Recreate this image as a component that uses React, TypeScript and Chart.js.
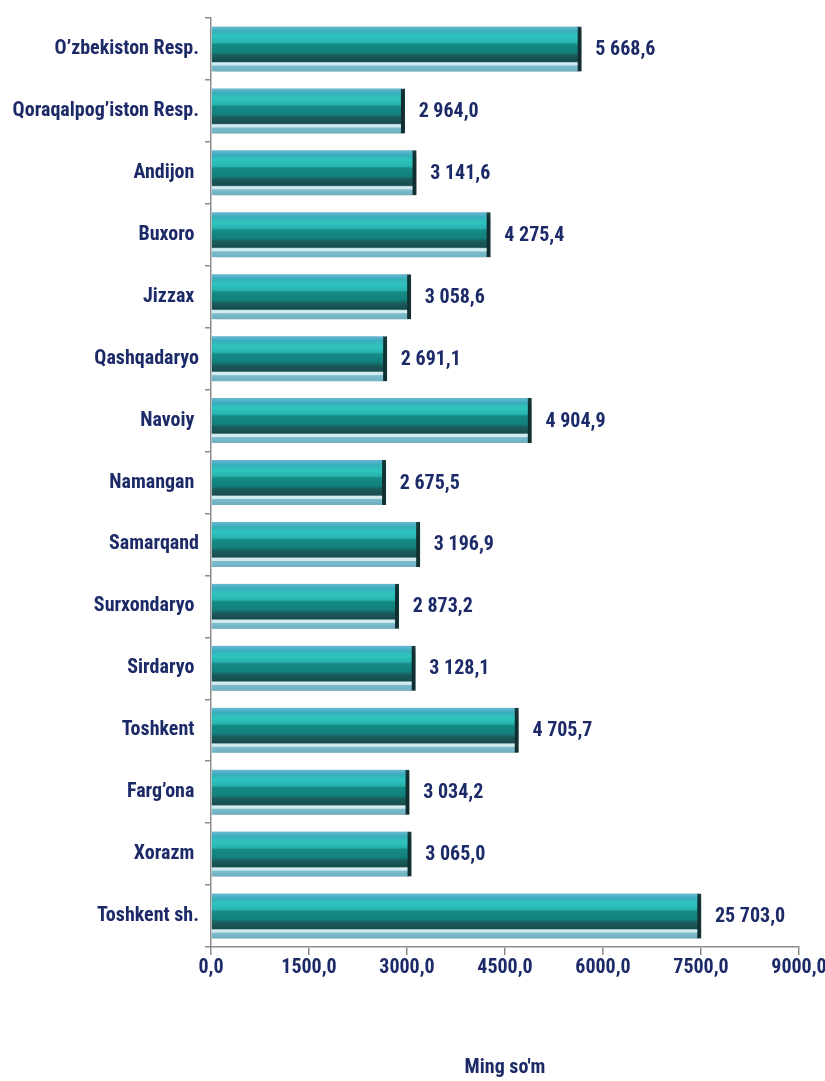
import React, { useEffect, useRef } from "react";
import { Chart, registerables } from "chart.js";

Chart.register(...registerables);

const categories = [
  "O’zbekiston Resp.",
  "Qoraqalpog’iston Resp.",
  "Andijon ",
  "Buxoro ",
  "Jizzax ",
  "Qashqadaryo",
  "Navoiy ",
  "Namangan ",
  "Samarqand",
  "Surxondaryo ",
  "Sirdaryo ",
  "Toshkent ",
  "Farg’ona ",
  "Xorazm ",
  "Toshkent sh.",
];

const values = [
  5668.6, 2964.0, 3141.6, 4275.4, 3058.6, 2691.1, 4904.9, 2675.5, 3196.9,
  2873.2, 3128.1, 4705.7, 3034.2, 3065.0, 25703.0,
];

// The original chart clips the off-scale bar at this value
const barCap = 7500;
const xTicks = [0, 1500, 3000, 4500, 6000, 7500, 9000];
const axisTitle = "Ming so'm";

const FONT = "'Roboto Condensed', 'Liberation Sans Narrow', sans-serif";
const FSIZE = 20;
const NAVY = "#1c2a68";
const BAR_T = 45;

function fmt(v: number): string {
  const s = v.toFixed(1);
  const [i, d] = s.split(".");
  return i.replace(/\B(?=(\d{3})+(?!\d))/g, " ") + "," + d;
}

function fmtTick(v: number): string {
  return v.toFixed(1).replace(".", ",");
}

const barPlugin = {
  id: "barDeco",
  beforeDatasetsDraw(chart: any) {
    const ctx = chart.ctx;
    ctx.save();
    ctx.shadowColor = "rgba(0,0,0,0.32)";
    ctx.shadowBlur = 6;
    ctx.shadowOffsetX = 3;
    ctx.shadowOffsetY = 4;
  },
  afterDatasetsDraw(chart: any) {
    const ctx = chart.ctx;
    ctx.restore();
    const meta = chart.getDatasetMeta(0);
    ctx.save();
    ctx.font = `bold ${FSIZE}px ${FONT}`;
    ctx.fillStyle = NAVY;
    ctx.textAlign = "left";
    ctx.textBaseline = "middle";
    meta.data.forEach((el: any, i: number) => {
      ctx.fillText(fmt(values[i]), el.x + 14, el.y + 1);
    });
    ctx.restore();
  },
};

export default function App() {
  const ref = useRef<HTMLCanvasElement>(null);
  useEffect(() => {
    if (!ref.current) return;
    const chart = new Chart(ref.current, {
      type: "bar",
      data: {
        labels: categories,
        datasets: [
          {
            data: values.map((v) => Math.min(v, barCap)),
            barThickness: BAR_T,
            borderWidth: { top: 0, bottom: 0, left: 0, right: 4 } as any,
            borderColor: "#163b3e",
            borderSkipped: false,
            backgroundColor: (c: any) => {
              const chart = c.chart;
              const y = chart.scales && chart.scales.y;
              if (!y || c.dataIndex === undefined) return "#1a9a95";
              const mid = y.getPixelForValue(c.dataIndex) - 1;
              if (!isFinite(mid)) return "#1a9a95";
              const g = chart.ctx.createLinearGradient(0, mid - BAR_T / 2, 0, mid + BAR_T / 2);
              g.addColorStop(0, "#6bbad0");
              g.addColorStop(0.08, "#55b2c9");
              g.addColorStop(0.12, "#38aebb");
              g.addColorStop(0.25, "#2fc4bf");
              g.addColorStop(0.38, "#27b3ae");
              g.addColorStop(0.42, "#158a86");
              g.addColorStop(0.6, "#12807c");
              g.addColorStop(0.66, "#1a5e5e");
              g.addColorStop(0.8, "#184b4d");
              g.addColorStop(0.83, "#d2eef3");
              g.addColorStop(0.88, "#cfe9ee");
              g.addColorStop(0.9, "#7dbccc");
              g.addColorStop(1, "#6fb2c3");
              return g;
            },
          },
        ],
      },
      options: {
        indexAxis: "y",
        responsive: false,
        animation: false,
        maintainAspectRatio: false,
        layout: { padding: { top: 13, right: 26, left: 0, bottom: 0 } },
        plugins: {
          legend: { display: false },
          tooltip: { enabled: false },
        },
        scales: {
          x: {
            min: 0,
            max: 9000,
            afterBuildTicks: (s: any) => {
              s.ticks = xTicks.map((v) => ({ value: v }));
            },
            afterFit: (s: any) => {
              s.height = 134;
              s.paddingLeft = 0;
              s.paddingRight = 0;
            },
            border: { display: true, color: "#8c8c8c", width: 1.5 },
            grid: {
              display: true,
              drawOnChartArea: false,
              drawTicks: true,
              tickLength: 8,
              color: "#8c8c8c",
              lineWidth: 1.5,
            },
            ticks: {
              color: NAVY,
              font: { family: FONT, size: FSIZE, weight: "bold" },
              padding: 1,
              maxRotation: 0,
              callback: (v: any) => fmtTick(Number(v)),
            },
            title: {
              display: true,
              text: axisTitle,
              color: NAVY,
              font: { family: FONT, size: FSIZE, weight: "bold" },
              padding: { top: 0, bottom: 1 },
            },
          },
          y: {
            afterFit: (s: any) => {
              s.width = 211;
            },
            border: { display: true, color: "#8c8c8c", width: 1.5 },
            grid: {
              display: true,
              offset: true,
              drawOnChartArea: false,
              drawTicks: true,
              tickLength: 6,
              color: "#8c8c8c",
              lineWidth: 1.5,
            },
            ticks: {
              color: NAVY,
              font: { family: FONT, size: FSIZE, weight: "bold" },
              padding: 6,
              autoSkip: false,
            },
          },
        },
      },
      plugins: [barPlugin],
    });
    return () => chart.destroy();
  }, []);
  return (
    <div style={{ position: "absolute", left: 0, top: 0, width: 825, height: 1081, background: "#fff" }}>
      <canvas ref={ref} width={825} height={1081} style={{ display: "block" }} />
    </div>
  );
}
